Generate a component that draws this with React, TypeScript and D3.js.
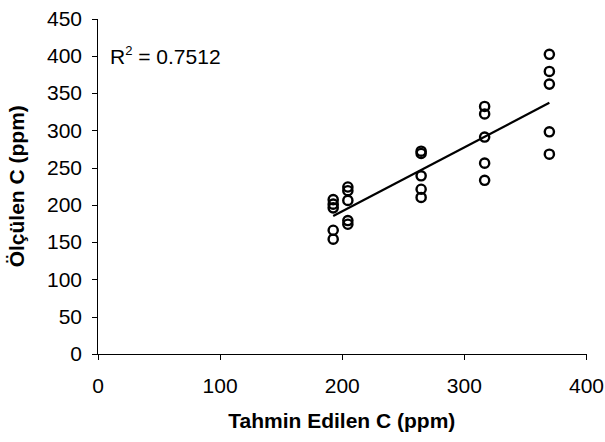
import React, { useEffect, useRef } from "react";
import * as d3 from "d3";

const predicted = [
  193, 193, 193, 193, 193,
  205, 205, 205, 205, 205,
  265, 265, 265, 265, 265,
  317, 317, 317, 317, 317,
  370, 370, 370, 370, 370,
];
const measured = [
  207, 201, 196, 166, 154,
  224, 219, 206, 179, 174,
  272, 269, 239, 221, 210,
  332, 322, 291, 256, 233,
  402, 379, 362, 298, 268,
];
const xTicks = [0, 100, 200, 300, 400];
const yTicks = [0, 50, 100, 150, 200, 250, 300, 350, 400, 450];
const xTitle = "Tahmin Edilen C (ppm)";
const yTitle = "Ölçülen C (ppm)";
const r2Label = "0.7512";

const W = 605;
const H = 442;
const FONT = "'Liberation Sans', Arial, sans-serif";

export default function App() {
  const ref = useRef<SVGSVGElement>(null);

  useEffect(() => {
    const svg = d3.select(ref.current);
    svg.selectAll("*").remove();

    const x = d3.scaleLinear().domain([0, 400]).range([97.5, 586]);
    const y = d3.scaleLinear().domain([0, 450]).range([354, 18.5]);

    // Y axis
    const gy = svg
      .append("g")
      .attr("transform", `translate(${x(0)},0)`)
      .call(
        d3.axisLeft(y).tickValues(yTicks).tickSize(6).tickSizeOuter(0).tickPadding(9.5).tickFormat(d3.format("d"))
      );
    gy.selectAll("text").attr("font-family", FONT).attr("font-size", 21).attr("fill", "#000");
    gy.selectAll("line,path").attr("stroke", "#000").attr("shape-rendering", "crispEdges");

    // X axis
    const gx = svg
      .append("g")
      .attr("transform", `translate(0,${y(0)})`)
      .call(
        d3.axisBottom(x).tickValues(xTicks).tickSize(6).tickSizeOuter(0).tickPadding(17.8).tickFormat(d3.format("d"))
      );
    gx.selectAll("text").attr("font-family", FONT).attr("font-size", 21).attr("fill", "#000");
    gx.selectAll("line,path").attr("stroke", "#000").attr("shape-rendering", "crispEdges");
    gy.select("path.domain").remove();
    svg
      .append("line")
      .attr("x1", x(0))
      .attr("x2", x(0))
      .attr("y1", y(450))
      .attr("y2", y(0))
      .attr("stroke", "#000")
      .attr("shape-rendering", "crispEdges");

    // Regression
    const n = predicted.length;
    const mx = d3.mean(predicted) as number;
    const my = d3.mean(measured) as number;
    let sxy = 0;
    let sxx = 0;
    for (let i = 0; i < n; i++) {
      sxy += (predicted[i] - mx) * (measured[i] - my);
      sxx += (predicted[i] - mx) ** 2;
    }
    const slope = sxy / sxx;
    const intercept = my - slope * mx;
    const [x0, x1] = d3.extent(predicted) as [number, number];
    const line = d3
      .line<number>()
      .x((d) => x(d))
      .y((d) => y(intercept + slope * d));
    svg
      .append("path")
      .attr("d", line([x0, x1]))
      .attr("stroke", "#000")
      .attr("stroke-width", 2.2)
      .attr("fill", "none");

    // Points
    svg
      .append("g")
      .selectAll("circle")
      .data(predicted)
      .join("circle")
      .attr("cx", (d) => x(d))
      .attr("cy", (_d, i) => y(measured[i]))
      .attr("r", 4.6)
      .attr("fill", "none")
      .attr("stroke", "#000")
      .attr("stroke-width", 2.4);

    // R^2 label
    const t = svg
      .append("text")
      .attr("x", 110)
      .attr("y", 64)
      .attr("font-family", FONT)
      .attr("font-size", 21)
      .attr("fill", "#000");
    t.append("tspan").text("R");
    t.append("tspan").attr("font-size", 13).attr("dy", -9).text("2");
    t.append("tspan").attr("dy", 9).text(` = ${r2Label}`);

    // Axis titles
    svg
      .append("text")
      .attr("x", (x(0) + x(400)) / 2)
      .attr("y", 428)
      .attr("text-anchor", "middle")
      .attr("font-family", FONT)
      .attr("font-size", 21)
      .attr("font-weight", "bold")
      .attr("fill", "#000")
      .text(xTitle);

    svg
      .append("text")
      .attr("transform", `translate(24,${(y(0) + y(450)) / 2}) rotate(-90)`)
      .attr("text-anchor", "middle")
      .attr("font-family", FONT)
      .attr("font-size", 21)
      .attr("font-weight", "bold")
      .attr("fill", "#000")
      .text(yTitle);
  }, []);

  return (
    <svg
      ref={ref}
      width={W}
      height={H}
      style={{ position: "absolute", left: 0, top: 0, background: "#fff" }}
    />
  );
}
